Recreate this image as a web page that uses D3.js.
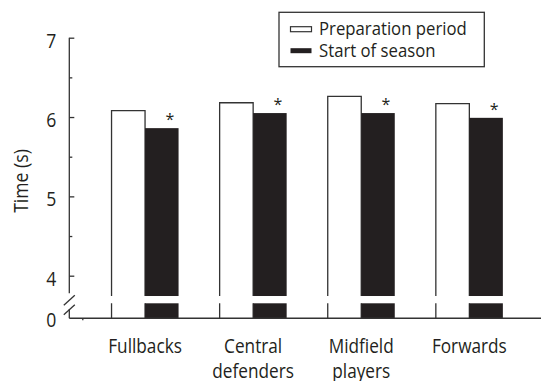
<!DOCTYPE html>
<html>
<head>
<meta charset="utf-8">
<script src="https://cdn.jsdelivr.net/npm/d3@7/dist/d3.min.js"></script>
<style>
  html, body { margin: 0; padding: 0; background: #fff; }
  svg { display: block; }
  text { font-family: "Open Sans", "Noto Sans", sans-serif; fill: #231f20; }
</style>
</head>
<body>
<svg id="chart" width="541" height="381"></svg>
<script>
// ---- data ----
const categories = ["Fullbacks", "Central\ndefenders", "Midfield\nplayers", "Forwards"];
const seriesNames = ["Preparation period", "Start of season"];
const preparation = [6.08, 6.18, 6.26, 6.17];
const startSeason = [5.86, 6.05, 6.05, 5.99];
const significant = [true, true, true, true];
const majorTicks = [4, 5, 6, 7];
const minorTicks = [4.5, 5.5, 6.5];
const zeroTick = [0];

// ---- helpers ----
// squeeze text horizontally to imitate the condensed face of the original
function condense(sel, k) {
  sel.each(function () {
    const len = this.getComputedTextLength();
    if (len > 0) {
      d3.select(this).attr("textLength", (len * k).toFixed(2)).attr("lengthAdjust", "spacingAndGlyphs");
    }
  });
}

// ---- layout ----
const svg = d3.select("#chart");
const ink = "#231f20";
const lineCol = "#333";
const fontFam = "'Open Sans', 'Noto Sans', sans-serif";

const yTop = d3.scaleLinear().domain([4, 7]).range([275.7, 37.7]);
const breakVal = 3.744;              // where the upper segment is cut
const axisBreakVal = 3.78;           // where the axis line stops above the break
const yBot = d3.scaleLinear().domain([0, 1]).range([318.3, 303.3]);
const axisX = 69.3;

const x0 = d3.scaleBand().domain(categories).range([91, 523.4]).paddingInner(0.38).paddingOuter(0.19);
const x1 = d3.scaleBand().domain(seriesNames).range([0, x0.bandwidth()]);

const rows = categories.map((c, i) => ({ cat: c, prep: preparation[i], start: startSeason[i], sig: significant[i] }));

const g = svg.append("g");

// white bars (upper segment: open outline, lower: side lines)
rows.forEach(d => {
  const xl = x0(d.cat) + x1(seriesNames[0]);
  const w = x1.bandwidth();
  g.append("rect").attr("x", xl).attr("y", yTop(d.prep)).attr("width", w)
    .attr("height", yTop(breakVal) - yTop(d.prep)).attr("fill", "#fff");
  const p = d3.path();
  p.moveTo(xl, yTop(breakVal)); p.lineTo(xl, yTop(d.prep)); p.lineTo(xl + w, yTop(d.prep)); p.lineTo(xl + w, yTop(breakVal));
  p.moveTo(xl, yBot(1)); p.lineTo(xl, yBot(0));
  p.moveTo(xl + w, yBot(1)); p.lineTo(xl + w, yBot(0));
  g.append("path").attr("d", p.toString()).attr("fill", "none").attr("stroke", lineCol).attr("stroke-width", 1.3);
});

// black bars
rows.forEach(d => {
  const xl = x0(d.cat) + x1(seriesNames[1]);
  const w = x1.bandwidth();
  g.append("rect").attr("x", xl).attr("y", yTop(d.start)).attr("width", w)
    .attr("height", yTop(breakVal) - yTop(d.start)).attr("fill", ink);
  g.append("rect").attr("x", xl).attr("y", yBot(1)).attr("width", w)
    .attr("height", yBot(0) - yBot(1)).attr("fill", ink);
  if (d.sig) {
    g.append("text").attr("x", xl + w / 2 + 8).attr("y", yTop(d.start) - 3)
      .attr("text-anchor", "middle").attr("font-size", 16).text("*");
  }
});

// y axis: major ticks
const yAxisMajor = d3.axisLeft(yTop).tickValues(majorTicks).tickSizeInner(-5).tickSizeOuter(0).tickPadding(13).tickFormat(d3.format("d"));
const ga = svg.append("g").attr("transform", `translate(${axisX},0)`).call(yAxisMajor);
ga.select(".domain").remove();
ga.selectAll("line").attr("stroke", lineCol).attr("stroke-width", 1.3);
ga.selectAll("text").attr("font-size", 20).attr("dy", "0.48em").attr("fill", ink).style("font-family", fontFam);
condense(ga.selectAll("text"), 0.88);

const yAxisMinor = d3.axisLeft(yTop).tickValues(minorTicks).tickSizeInner(-3).tickSizeOuter(0).tickFormat("");
const gm = svg.append("g").attr("transform", `translate(${axisX},0)`).call(yAxisMinor);
gm.select(".domain").remove();
gm.selectAll("line").attr("stroke", lineCol).attr("stroke-width", 1.3);

const yAxisZero = d3.axisLeft(yBot).tickValues(zeroTick).tickSizeInner(0).tickSizeOuter(0).tickPadding(13).tickFormat(d3.format("d"));
const gz = svg.append("g").attr("transform", `translate(${axisX},0)`).call(yAxisZero);
gz.select(".domain").remove();
gz.selectAll("text").attr("font-size", 20).attr("dy", "0.42em").attr("fill", ink).style("font-family", fontFam);
condense(gz.selectAll("text"), 0.88);

// axis lines with break
svg.append("line").attr("x1", axisX).attr("x2", axisX).attr("y1", yTop(7)).attr("y2", yTop(axisBreakVal))
  .attr("stroke", lineCol).attr("stroke-width", 1.3);
svg.append("line").attr("x1", axisX).attr("x2", axisX).attr("y1", yBot(0.6)).attr("y2", yBot(0))
  .attr("stroke", lineCol).attr("stroke-width", 1.3);
// break marks
[yTop(axisBreakVal) + 7, yBot(0.6) + 0.5].forEach(cy => {
  svg.append("line").attr("x1", axisX - 5.5).attr("y1", cy + 5).attr("x2", axisX + 5.5).attr("y2", cy - 5)
    .attr("stroke", lineCol).attr("stroke-width", 1.3);
});

// x baseline
svg.append("line").attr("x1", axisX).attr("x2", 541).attr("y1", yBot(0)).attr("y2", yBot(0))
  .attr("stroke", lineCol).attr("stroke-width", 1.5);
svg.append("line").attr("x1", axisX + 13.5).attr("x2", axisX + 13.5).attr("y1", yBot(0)).attr("y2", yBot(0) + 2)
  .attr("stroke", lineCol).attr("stroke-width", 1.3);

// x labels
categories.forEach(c => {
  const cx = x0(c) + x0.bandwidth() / 2;
  c.split("\n").forEach((line, i) => {
    const t = svg.append("text").attr("x", cx).attr("y", yBot(0) + 35 + i * 25)
      .attr("text-anchor", "middle").attr("font-size", 20).text(line);
    condense(t, 0.86);
  });
});

// y title
const yt = svg.append("text").attr("transform", `translate(28,181) rotate(-90)`).attr("text-anchor", "middle")
  .attr("font-size", 20).text("Time (s)");
condense(yt, 0.88);

// legend
const lg = svg.append("g");
lg.append("rect").attr("x", 279).attr("y", 12.3).attr("width", 205.3).attr("height", 54.4)
  .attr("fill", "#fff").attr("stroke", lineCol).attr("stroke-width", 1.3);
seriesNames.forEach((s, i) => {
  const yy = 29.2 + i * 21.5;
  lg.append("rect").attr("x", 290.5).attr("y", yy - 2.5).attr("width", 21).attr("height", 5)
    .attr("fill", i === 0 ? "#fff" : ink).attr("stroke", i === 0 ? lineCol : ink).attr("stroke-width", i === 0 ? 1.2 : 0);
  const t = lg.append("text").attr("x", 319).attr("y", yy + 6).attr("font-size", 19).text(s);
  condense(t, 0.88);
});
</script>
</body>
</html>
